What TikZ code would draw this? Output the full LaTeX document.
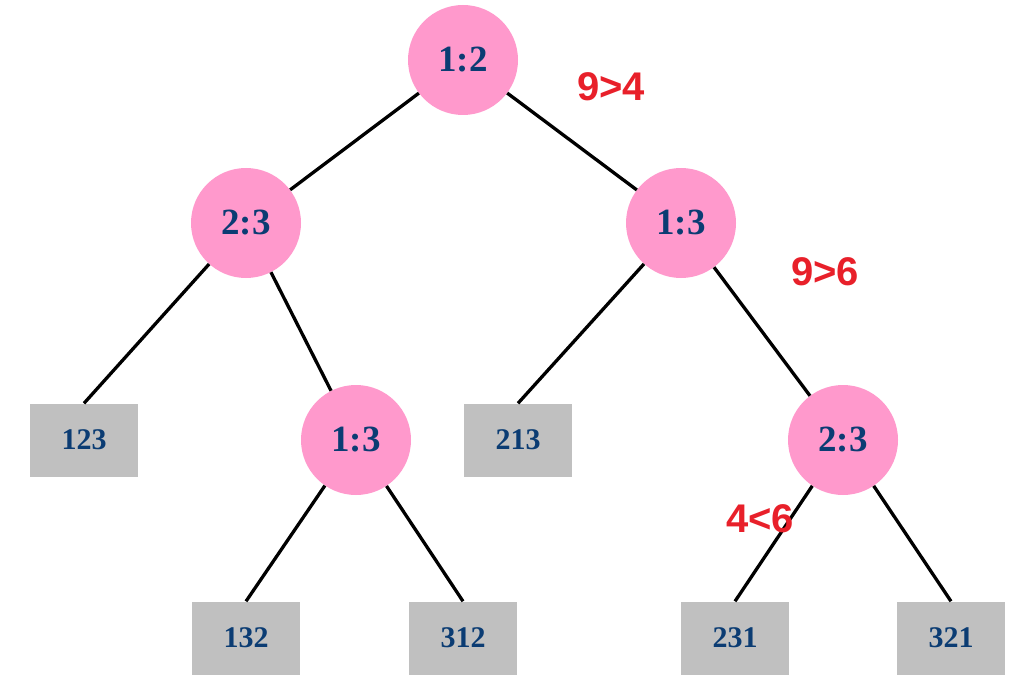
\documentclass[tikz,border=0pt]{standalone}
\usepackage{fontspec}
\setmainfont{Liberation Serif}
\newfontfamily\lblfont{Liberation Sans}
\definecolor{pinkfill}{HTML}{FF99CC}
\definecolor{greyfill}{HTML}{C0C0C0}
\definecolor{navy}{HTML}{0B3C73}
\definecolor{lblred}{HTML}{E8202A}
\begin{document}
\begin{tikzpicture}[x=1pt,y=-1pt,
  cmp/.style={circle,fill=pinkfill,minimum size=110pt,inner sep=0pt,text=navy,font=\fontsize{37}{40}\selectfont\bfseries},
  leaf/.style={rectangle,fill=greyfill,minimum width=108pt,minimum height=73pt,inner sep=0pt,text=navy,font=\fontsize{30}{34}\selectfont\bfseries},
  edge/.style={line width=3.3pt,black},
  note/.style={text=lblred,font=\lblfont\fontsize{40}{44}\selectfont\bfseries}]
\useasboundingbox (0,0) rectangle (1032,695);
\node[cmp] (c12) at (463,60) {1:2};
\node[cmp] (c23a) at (246,223) {2:3};
\node[cmp] (c13a) at (681,223) {1:3};
\node[cmp] (c13b) at (356,440) {1:3};
\node[cmp] (c23b) at (843,440) {2:3};
\node[leaf] (r123) at (84,440) {123};
\node[leaf] (r213) at (518,440) {213};
\node[leaf] (r132) at (246,638) {132};
\node[leaf] (r312) at (463,638) {312};
\node[leaf] (r231) at (735,638) {231};
\node[leaf] (r321) at (951,638) {321};
\draw[edge] (c12) -- (c23a);
\draw[edge] (c12) -- (c13a);
\draw[edge] (c23a) -- (r123.north);
\draw[edge] (c23a) -- (c13b);
\draw[edge] (c13a) -- (r213.north);
\draw[edge] (c13a) -- (c23b);
\draw[edge] (c13b) -- (r132.north);
\draw[edge] (c13b) -- (r312.north);
\draw[edge] (c23b) -- (r231.north);
\draw[edge] (c23b) -- (r321.north);
\node[note] (n1) at (611,87) {9>4};
\node[note] (n2) at (825,272) {9>6};
\node[note] (n3) at (760,519) {4<6};
\end{tikzpicture}
\end{document}
